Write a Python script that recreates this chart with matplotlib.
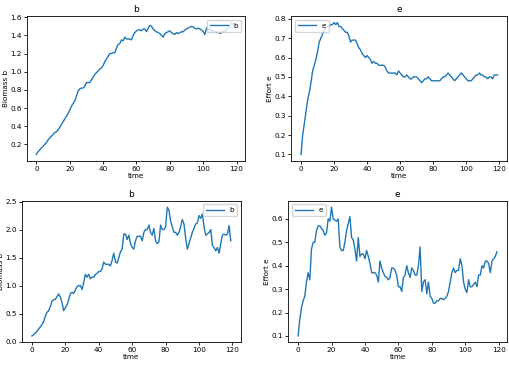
import numpy as np
import matplotlib
matplotlib.use("Agg")
import matplotlib.pyplot as plt

# run 1: smooth run, run 2: noisy run
b1 = [0.09,0.12,0.14,0.16,0.18,0.20,0.22,0.25,0.27,0.29,
      0.31,0.33,0.34,0.36,0.39,0.42,0.45,0.48,0.51,0.54,
      0.58,0.62,0.65,0.68,0.73,0.79,0.81,0.82,0.82,0.84,
      0.88,0.88,0.88,0.91,0.94,0.97,0.99,1.01,1.03,1.04,
      1.07,1.11,1.14,1.17,1.20,1.20,1.21,1.21,1.26,1.30,
      1.31,1.35,1.34,1.38,1.36,1.36,1.36,1.35,1.40,1.43,
      1.45,1.46,1.46,1.45,1.47,1.47,1.44,1.48,1.51,1.50,
      1.47,1.45,1.44,1.43,1.42,1.40,1.38,1.42,1.43,1.44,
      1.45,1.43,1.42,1.41,1.43,1.42,1.43,1.44,1.44,1.46,
      1.47,1.48,1.49,1.50,1.49,1.48,1.47,1.48,1.47,1.46,
      1.44,1.41,1.48,1.47,1.47,1.45,1.45,1.44,1.43,1.44,
      1.42,1.43,1.45,1.44,1.46,1.48,1.51,1.54,1.52,1.50]

e1 = [0.10,0.20,0.26,0.32,0.38,0.42,0.47,0.53,0.56,0.59,
      0.63,0.68,0.70,0.72,0.74,0.75,0.76,0.76,0.77,0.77,
      0.78,0.77,0.78,0.76,0.76,0.75,0.74,0.73,0.73,0.71,
      0.68,0.69,0.69,0.69,0.67,0.65,0.64,0.62,0.61,0.60,
      0.61,0.60,0.59,0.57,0.58,0.57,0.57,0.56,0.56,0.56,
      0.56,0.55,0.53,0.52,0.52,0.52,0.52,0.52,0.51,0.53,
      0.52,0.51,0.50,0.50,0.51,0.50,0.49,0.49,0.50,0.50,
      0.50,0.49,0.48,0.47,0.48,0.49,0.49,0.50,0.49,0.48,
      0.48,0.48,0.48,0.48,0.48,0.49,0.50,0.50,0.51,0.52,
      0.51,0.50,0.49,0.48,0.49,0.50,0.51,0.52,0.51,0.50,
      0.49,0.48,0.48,0.48,0.49,0.50,0.51,0.51,0.52,0.51,
      0.51,0.50,0.50,0.49,0.50,0.50,0.49,0.51,0.51,0.51]

b2 = [0.10,0.12,0.15,0.18,0.22,0.26,0.30,0.35,0.45,0.52,
      0.55,0.62,0.72,0.75,0.75,0.80,0.85,0.80,0.70,0.55,
      0.60,0.65,0.75,0.85,0.88,0.86,0.92,0.98,1.00,1.00,
      0.93,1.05,1.20,1.15,1.20,1.12,1.15,1.15,1.20,1.22,
      1.25,1.25,1.30,1.42,1.38,1.38,1.38,1.35,1.45,1.58,
      1.42,1.40,1.50,1.60,1.65,1.92,1.92,1.82,1.90,1.75,
      1.68,1.65,1.80,1.88,1.88,1.88,1.80,1.95,2.00,2.00,
      2.08,1.95,1.90,2.02,1.80,1.75,1.78,2.08,2.00,2.00,
      2.05,2.40,2.35,2.15,2.05,1.95,1.95,1.90,1.95,2.05,
      2.18,2.10,1.85,1.65,1.75,1.85,1.95,2.02,2.10,2.12,
      2.25,2.20,2.28,2.05,1.90,1.92,1.95,2.00,1.72,1.68,
      1.62,1.68,1.58,1.75,1.90,1.92,1.90,1.92,2.07,1.80]

e2 = [0.10,0.17,0.22,0.25,0.27,0.33,0.37,0.34,0.47,0.50,
      0.50,0.55,0.57,0.57,0.56,0.55,0.53,0.54,0.60,0.59,
      0.65,0.60,0.595,0.59,0.60,0.48,0.465,0.465,0.50,0.55,
      0.58,0.61,0.52,0.51,0.47,0.42,0.52,0.44,0.45,0.45,
      0.43,0.465,0.44,0.41,0.37,0.37,0.37,0.36,0.33,0.42,
      0.39,0.37,0.355,0.35,0.34,0.35,0.39,0.39,0.38,0.36,
      0.31,0.31,0.29,0.35,0.36,0.40,0.37,0.35,0.39,0.38,
      0.36,0.36,0.40,0.48,0.29,0.33,0.34,0.28,0.33,0.27,
      0.26,0.24,0.24,0.25,0.25,0.26,0.26,0.255,0.26,0.27,
      0.29,0.33,0.37,0.39,0.37,0.38,0.38,0.43,0.40,0.33,
      0.30,0.285,0.34,0.31,0.31,0.32,0.33,0.31,0.36,0.36,
      0.40,0.39,0.42,0.42,0.41,0.37,0.42,0.43,0.44,0.46]

t = np.arange(len(b1))

plt.rcParams['font.size'] = 5.2
fig = plt.figure(figsize=(5.1, 3.65), dpi=100)

def panel(rect, y, title, ylabel, leg_loc):
    ax = fig.add_axes(rect)
    ax.plot(t, y, color='#1f77b4', lw=1.0, label=title)
    ax.set_title(title, fontsize=6.5, pad=3)
    ax.set_xlabel('time', labelpad=0.5)
    ax.set_ylabel(ylabel, labelpad=1)
    ax.tick_params(length=2.5, pad=1, width=0.6)
    for s in ax.spines.values():
        s.set_linewidth(0.6)
    ax.legend(loc=leg_loc, fontsize=5.2, handlelength=2.5)
    return ax

panel([0.052, 0.559, 0.428, 0.397], b1, 'b', 'Biomass b', 'upper right')
panel([0.571, 0.559, 0.424, 0.397], e1, 'e', 'Effort e', 'upper left')
panel([0.043, 0.062, 0.429, 0.388], b2, 'b', 'Biomass b', 'upper right')
panel([0.565, 0.062, 0.429, 0.388], e2, 'e', 'Effort e', 'upper left')

fig.savefig('out.png', dpi=100)
